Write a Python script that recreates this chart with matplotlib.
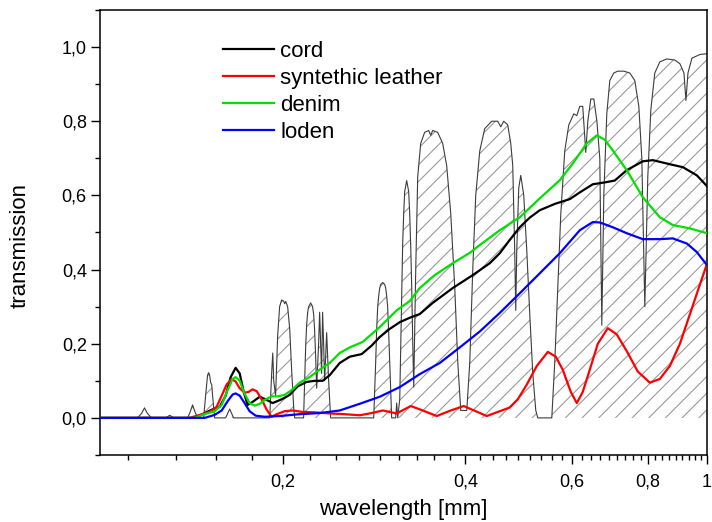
import matplotlib
matplotlib.use('Agg')
import matplotlib.pyplot as plt
from matplotlib.ticker import MultipleLocator, NullFormatter

plt.rcParams['font.family'] = ['Liberation Sans', 'DejaVu Sans']
plt.rcParams['hatch.linewidth'] = 0.8

# atmospheric transmission (hatched background), wavelength in mm
atm_wl = [0.100, 0.1153, 0.1171, 0.1184, 0.1197, 0.1216,
          0.1283, 0.1303, 0.1323,
          0.1394, 0.1405, 0.1421, 0.1437, 0.1454,
          0.1482, 0.1493, 0.1504, 0.1510, 0.1516, 0.1522, 0.1528, 0.1533, 0.1545,
          0.1611, 0.1623, 0.1636, 0.1648, 0.1660,
          0.1904, 0.1918, 0.1926, 0.1933, 0.1947, 0.1962, 0.1977, 0.1992,
          0.2007, 0.2015, 0.2023, 0.2038, 0.2054, 0.2069, 0.2085, 0.2093,
          0.2165, 0.2174, 0.2182, 0.2190, 0.2199, 0.2207, 0.2224, 0.2240, 0.2249, 0.2257, 0.2266,
          0.2275, 0.2292, 0.2301, 0.2310, 0.2318, 0.2327, 0.2336, 0.2345, 0.2363, 0.2381, 0.2399,
          0.2825, 0.2846, 0.2857, 0.2868, 0.2879, 0.2890, 0.2901, 0.2923, 0.2945, 0.2956,
          0.2967, 0.2978, 0.2990, 0.3002, 0.3024,
          0.3070, 0.3082, 0.3094,
          0.3118, 0.3130, 0.3142, 0.3153, 0.3165, 0.3177, 0.3201, 0.3226, 0.3238, 0.3251,
          0.3263, 0.3276, 0.3288,
          0.3313, 0.3338, 0.3376, 0.3427, 0.3480, 0.3507, 0.3533, 0.3601, 0.3670, 0.3726,
          0.3784, 0.3842, 0.3886, 0.3930,
          0.4021, 0.4067, 0.4113, 0.4160, 0.4224, 0.4304, 0.4421, 0.4522, 0.4574, 0.4626,
          0.4697, 0.4751, 0.4787, 0.4823, 0.4842, 0.4860, 0.4897, 0.4935, 0.4991, 0.5049,
          0.5106, 0.5165, 0.5224, 0.5264,
          0.5551, 0.5614, 0.5678, 0.5744, 0.5831, 0.5921, 0.6035, 0.6104, 0.6173, 0.6243,
          0.6315, 0.6364, 0.6437, 0.6511, 0.6587, 0.6660, 0.6711, 0.6762, 0.6839, 0.6918,
          0.7023, 0.7131, 0.7296, 0.7463, 0.7605, 0.7723, 0.7811, 0.7900, 0.7990, 0.8082,
          0.8205, 0.8363, 0.8588, 0.8852, 0.9026, 0.9165, 0.9234, 0.9305, 0.9446, 0.9738, 1.000]
atm_tr = [0, 0, 0.012, 0.027, 0.012, 0,
          0, 0.007, 0,
          0, 0.012, 0.035, 0.012, 0,
          0, 0.06, 0.115, 0.122, 0.115, 0.095, 0.09, 0.06, 0,
          0, 0.012, 0.024, 0.012, 0,
          0, 0.12, 0.175, 0.10, 0.06, 0.22, 0.30, 0.318,
          0.315, 0.308, 0.314, 0.30, 0.24, 0.13, 0.03, 0,
          0, 0.10, 0.19, 0.25, 0.285, 0.30, 0.31, 0.30, 0.28, 0.24, 0.17,
          0.08, 0.2, 0.285, 0.2, 0.12, 0.285, 0.2, 0.1, 0.23, 0.1, 0,
          0, 0.15, 0.24, 0.30, 0.33, 0.35, 0.36, 0.365, 0.36, 0.35,
          0.33, 0.30, 0.23, 0.15, 0,
          0, 0.04, 0,
          0.05, 0.2, 0.35, 0.47, 0.55, 0.61, 0.64, 0.61, 0.55, 0.46,
          0.35, 0.2, 0.083,
          0.40, 0.65, 0.74, 0.77, 0.775, 0.762, 0.775, 0.77, 0.74, 0.68,
          0.55, 0.35, 0.15, 0.02,
          0.02, 0.15, 0.40, 0.60, 0.72, 0.78, 0.80, 0.80, 0.785, 0.80,
          0.79, 0.74, 0.68, 0.45, 0.29, 0.45, 0.62, 0.654, 0.60, 0.45,
          0.28, 0.12, 0.02, 0.0,
          0.0, 0.15, 0.35, 0.55, 0.72, 0.79, 0.82, 0.815, 0.84, 0.84,
          0.716, 0.80, 0.86, 0.86, 0.80, 0.70, 0.25, 0.60, 0.82, 0.91,
          0.93, 0.935, 0.935, 0.93, 0.91, 0.84, 0.70, 0.30, 0.65, 0.83,
          0.93, 0.96, 0.968, 0.965, 0.955, 0.93, 0.856, 0.93, 0.97, 0.98, 0.982]

# cord
wl_cord = [0.100, 0.1432, 0.1476, 0.1528, 0.1575, 0.1611, 0.1642, 0.1673, 0.1699, 0.1725,
           0.1751, 0.1791, 0.1833, 0.1875, 0.1925, 0.1992, 0.2054, 0.2117, 0.2190, 0.2257,
           0.2327, 0.2390, 0.2483, 0.2579, 0.2699, 0.2803, 0.2890, 0.3002, 0.3118, 0.3238,
           0.3364, 0.3533, 0.3812, 0.4113, 0.4387, 0.4557, 0.4733, 0.4916, 0.5106, 0.5304,
           0.5614, 0.5944, 0.6173, 0.6485, 0.6787, 0.7049, 0.7377, 0.7840, 0.8144, 0.8687,
           0.9129, 0.9625, 1.000]
tr_cord = [0, 0, 0.01, 0.022, 0.03, 0.06, 0.11, 0.135, 0.12, 0.07,
           0.035, 0.045, 0.057, 0.05, 0.04, 0.05, 0.062, 0.085, 0.097, 0.1,
           0.1, 0.115, 0.148, 0.165, 0.172, 0.195, 0.218, 0.24, 0.258, 0.27,
           0.28, 0.31, 0.35, 0.385, 0.417, 0.444, 0.48, 0.514, 0.54, 0.56,
           0.577, 0.59, 0.608, 0.63, 0.635, 0.64, 0.668, 0.692, 0.695, 0.684,
           0.676, 0.654, 0.625]

# syntethic leather
wl_leather = [0.100, 0.1405, 0.1460, 0.1516, 0.1557, 0.1587, 0.1617, 0.1648, 0.1673, 0.1699,
              0.1731, 0.1757, 0.1784, 0.1812, 0.1847, 0.1882, 0.1918, 0.1955, 0.2015, 0.2077,
              0.2157, 0.2257, 0.2390, 0.2531, 0.2679, 0.2803, 0.2923, 0.3082, 0.3251, 0.3402,
              0.3588, 0.3784, 0.3975, 0.4160, 0.4338, 0.4557, 0.4733, 0.4879, 0.5049, 0.5244,
              0.5468, 0.5636, 0.5787, 0.5966, 0.6104, 0.6243, 0.6412, 0.6610, 0.6865, 0.7104,
              0.7377, 0.7693, 0.8052, 0.8363, 0.8687, 0.9026, 0.9376, 0.9738, 1.000]
tr_leather = [0, 0, 0.008, 0.016, 0.03, 0.06, 0.09, 0.105, 0.098, 0.08,
              0.068, 0.07, 0.077, 0.072, 0.05, 0.022, 0.003, 0.01, 0.018, 0.02,
              0.016, 0.015, 0.012, 0.01, 0.007, 0.013, 0.02, 0.012, 0.032, 0.02,
              0.005, 0.02, 0.032, 0.018, 0.005, 0.018, 0.028, 0.05, 0.09, 0.14,
              0.178, 0.165, 0.13, 0.07, 0.04, 0.07, 0.13, 0.2, 0.242, 0.225,
              0.18, 0.125, 0.095, 0.105, 0.14, 0.2, 0.28, 0.36, 0.415]

# denim
wl_denim = [0.100, 0.1432, 0.1487, 0.1545, 0.1587, 0.1623, 0.1654, 0.1673, 0.1699, 0.1731,
            0.1764, 0.1798, 0.1833, 0.1875, 0.1918, 0.1962, 0.2015, 0.2069, 0.2133, 0.2215,
            0.2301, 0.2390, 0.2483, 0.2579, 0.2710, 0.2890, 0.3082, 0.3238, 0.3364, 0.3560,
            0.3812, 0.4067, 0.4224, 0.4557, 0.4916, 0.5304, 0.5722, 0.6012, 0.6337, 0.6587,
            0.6787, 0.6997, 0.7377, 0.7840, 0.8363, 0.8786, 0.9376, 1.000]
tr_denim = [0, 0, 0.01, 0.018, 0.035, 0.075, 0.105, 0.11, 0.1, 0.065,
            0.04, 0.033, 0.038, 0.05, 0.058, 0.058, 0.062, 0.075, 0.095, 0.11,
            0.13, 0.148, 0.175, 0.19, 0.205, 0.245, 0.29, 0.315, 0.35, 0.385,
            0.417, 0.445, 0.466, 0.506, 0.541, 0.592, 0.641, 0.686, 0.74, 0.762,
            0.75, 0.721, 0.668, 0.595, 0.541, 0.52, 0.511, 0.498]

# loden
wl_loden = [0.100, 0.1487, 0.1545, 0.1587, 0.1623, 0.1654, 0.1673, 0.1699, 0.1731, 0.1764,
            0.1805, 0.1868, 0.1977, 0.2133, 0.2301, 0.2483, 0.2679, 0.2890, 0.3118, 0.3364,
            0.3629, 0.3915, 0.4224, 0.4557, 0.4916, 0.5304, 0.5722, 0.6173, 0.6485, 0.6660,
            0.6997, 0.7377, 0.7840, 0.8363, 0.8786, 0.9270, 0.9625, 1.000]
tr_loden = [0, 0, 0.008, 0.02, 0.045, 0.063, 0.066, 0.06, 0.04, 0.018,
            0.006, 0.003, 0.005, 0.01, 0.013, 0.02, 0.038, 0.057, 0.083, 0.118,
            0.148, 0.19, 0.233, 0.283, 0.336, 0.39, 0.444, 0.506, 0.528, 0.527,
            0.514, 0.498, 0.482, 0.482, 0.484, 0.47, 0.447, 0.412]

x_ticks = [0.2, 0.4, 0.6, 0.8, 1.0]
x_ticklabels = ['0,2', '0,4', '0,6', '0,8', '1']
y_ticks = [0.0, 0.2, 0.4, 0.6, 0.8, 1.0]
y_ticklabels = ['0,0', '0,2', '0,4', '0,6', '0,8', '1,0']

fig = plt.figure(figsize=(7.12, 5.22), dpi=100)
ax = fig.add_axes([0.1404, 0.1284, 0.8525, 0.8525])

ax.fill_between(atm_wl, 0, atm_tr, facecolor='none', edgecolor='#9a9a9a',
                hatch='//', linewidth=0, zorder=1)
ax.plot(atm_wl, atm_tr, color='#3c3c3c', lw=0.8, zorder=2)

ax.plot(wl_cord, tr_cord, color='black', lw=1.6, label='cord', zorder=3)
ax.plot(wl_leather, tr_leather, color='#ff0000', lw=1.6, label='syntethic leather', zorder=3)
ax.plot(wl_denim, tr_denim, color='#00e000', lw=1.6, label='denim', zorder=3)
ax.plot(wl_loden, tr_loden, color='#0000ff', lw=1.6, label='loden', zorder=3)

ax.set_xscale('log')
ax.set_xlim(0.1, 1.0)
ax.set_ylim(-0.1, 1.1)

ax.set_xticks(x_ticks, labels=x_ticklabels)
# Origin-style linear minor ticks (8 between majors)
ax.set_xticks([k * 0.2 / 9 for k in range(5, 45) if k % 9 != 0], minor=True)
ax.xaxis.set_minor_formatter(NullFormatter())
ax.set_yticks(y_ticks, labels=y_ticklabels)
ax.yaxis.set_minor_locator(MultipleLocator(0.1))

ax.tick_params(which='major', direction='out', length=6.5, width=1.0, labelsize=13, pad=3)
ax.tick_params(which='minor', direction='out', length=3.5, width=1.0)
ax.tick_params(axis='x', which='major', pad=7)
for sp in ax.spines.values():
    sp.set_linewidth(1.1)

ax.set_xlabel('wavelength [mm]', fontsize=16)
ax.set_ylabel('transmission', fontsize=16)
ax.xaxis.set_label_coords(0.5, -0.098)
ax.yaxis.set_label_coords(-0.115, 0.47)

ax.legend(loc='upper left', bbox_to_anchor=(0.2026, 0.93), frameon=False,
          fontsize=16, handlelength=2.3, handletextpad=0.28, labelspacing=0.27,
          borderpad=0, borderaxespad=0)

fig.savefig('out.png', dpi=100)
